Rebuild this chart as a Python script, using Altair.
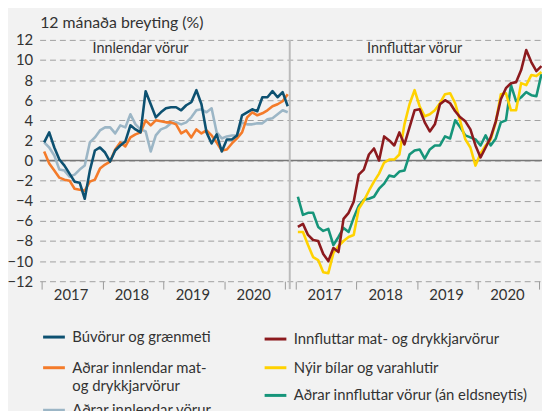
import altair as alt
import pandas as pd

# ---- data (12-month change, %), Jan 2017 .. Jan 2021 ----
months = [f"{y}-{m:02d}" for y in range(2017, 2021) for m in range(1, 13)] + ["2021-01"]

buvorur = [1.8, 2.8, 1.3, 0.1, -0.5, -1.3, -2.1, -2.2, -3.8, -1.0, 1.0, 1.3, 0.8, -0.1, 1.0, 1.5, 1.9, 3.5, 3.1, 2.8, 6.9, 5.6, 4.3, 4.8, 5.2,
           5.3, 5.3, 5.0, 5.5, 5.8, 7.0, 5.6, 2.8, 1.7, 2.6, 0.9, 2.1, 2.1, 2.5, 4.5, 4.8, 5.1, 4.9, 6.3, 6.3, 6.9, 6.3, 6.8, 5.4]
adrar_mat = [0.9, -0.3, -1.0, -1.7, -1.9, -2.0, -2.8, -2.9, -3.0, -2.1, -1.9, -0.8, -0.4, -0.1, 1.1, 1.8, 1.4, 2.3, 2.6, 2.8, 4.0, 3.5, 4.0, 3.9, 3.8,
             3.8, 3.6, 2.7, 3.0, 2.3, 3.1, 2.7, 3.0, 2.5, 1.8, 1.0, 1.1, 1.7, 2.2, 2.8, 4.3, 4.8, 4.5, 4.7, 5.0, 5.4, 5.6, 5.9, 6.6]
adrar_innl = [1.8, 1.3, 0.5, -0.9, -1.0, -1.6, -1.4, -0.9, -0.5, 1.8, 2.3, 3.0, 3.3, 3.3, 2.7, 3.5, 3.3, 4.6, 3.6, 3.1, 2.9, 0.9, 2.5, 3.1, 3.3,
              3.7, 3.8, 3.6, 3.8, 4.3, 5.0, 5.1, 4.8, 5.2, 2.8, 2.2, 2.4, 2.5, 2.5, 3.8, 3.6, 3.6, 3.7, 3.7, 4.1, 4.2, 4.6, 5.0, 4.8]
innfl_mat = [-6.6, -6.3, -7.4, -7.9, -8.0, -9.3, -10.0, -8.7, -9.1, -5.8, -5.2, -4.1, -1.4, -0.9, 0.6, 1.2, 0.0, 2.4, 2.0, 1.5, 2.8, 1.6, 3.3, 5.0, 5.1,
             3.8, 2.9, 3.6, 5.6, 6.0, 5.7, 4.9, 4.3, 3.9, 3.1, 1.5, 0.3, 1.3, 2.3, 3.9, 6.1, 7.2, 7.7, 7.8, 9.0, 11.0, 9.8, 8.9, 9.4]
bilar = [-7.1, -7.1, -8.4, -9.6, -9.9, -11.1, -11.2, -9.2, -8.5, -8.0, -7.6, -7.4, -4.8, -4.0, -3.0, -2.1, -1.3, -0.2, 0.1, 0.1, 0.6, 3.6, 5.6, 7.0, 5.4,
         4.4, 4.6, 5.0, 5.7, 6.6, 6.7, 5.7, 3.9, 2.1, 1.3, -0.5, 0.7, 1.5, 2.1, 3.8, 6.6, 6.7, 5.0, 5.0, 7.7, 7.5, 8.5, 8.4, 8.8]
adrar_innfl = [-3.6, -5.4, -5.2, -5.2, -6.6, -7.0, -6.8, -8.4, -7.6, -6.7, -7.1, -5.7, -4.5, -3.9, -3.8, -3.6, -2.8, -2.3, -1.5, -1.6, -1.1, -1.0, 0.6, 1.0, 1.1,
               0.2, 1.1, 1.5, 1.5, 2.4, 2.2, 4.0, 3.3, 2.5, 2.3, 2.1, 1.5, 2.5, 1.5, 2.2, 3.8, 4.0, 7.5, 5.9, 6.3, 6.8, 6.5, 6.4, 8.6]

left_names = ["Búvörur og grænmeti", "Aðrar innlendar mat- og drykkjarvörur", "Aðrar innlendar vörur"]
left_colors = ["#0d5171", "#f47b2a", "#9cb6c6"]
right_names = ["Innfluttar mat- og drykkjarvörur", "Nýir bílar og varahlutir", "Aðrar innfluttar vörur (án eldsneytis)"]
right_colors = ["#8c1a1e", "#ffd200", "#16957a"]

panel_titles = ["Innlendar vörur", "Innfluttar vörur"]
years = ["2017", "2018", "2019", "2020"]
y_ticks = list(range(-12, 13, 2))

RIGHT_OFFSET = 50  # right panel starts after a 2-month gap on the shared axis


def frame(vals, name, offset):
    return pd.DataFrame({"pos": [i + offset for i in range(len(vals))],
                         "value": vals, "series": name, "month": months[:len(vals)]})


tick_vals = [12 * i - 0.5 for i in range(5)] + [RIGHT_OFFSET + 12 * i - 0.5 for i in range(5)]
year_df = pd.DataFrame({
    "pos": [12 * i + 5.3 for i in range(4)] + [RIGHT_OFFSET + 12 * i + 5.3 for i in range(4)],
    "label": years + years,
})
title_df = pd.DataFrame({"pos": [19, RIGHT_OFFSET + 23], "label": panel_titles})
zero_df = pd.DataFrame({"value": [0]})
divider_df = pd.DataFrame({"pos": [48.4]})

W, H = 508, 244
FONT = "Lato"
TXT = "#333333"

xscale = alt.Scale(domain=[-0.89, 98.11], nice=False, zero=False)
yscale = alt.Scale(domain=[-12, 12], nice=False)
xaxis = alt.Axis(values=tick_vals, labels=False, grid=False, domain=False, ticks=True,
                 tickSize=8, tickColor="#9a9a9a", tickWidth=1, title=None)
yaxis = alt.Axis(values=y_ticks, grid=True, gridDash=[6, 4], gridColor="#a0a0a0", gridWidth=1,
                 domain=False, ticks=False, labelPadding=7, labelFontSize=15, labelColor=TXT,
                 labelFont=FONT, title="12 mánaða breyting (%)", titleAngle=0, titleAlign="left",
                 titleBaseline="middle", titleX=0, titleY=-18, titleFontWeight="normal",
                 titleFontSize=16, titleFont=FONT, titleColor=TXT)

X = alt.X("pos:Q", scale=xscale, axis=xaxis)
Y = alt.Y("value:Q", scale=yscale, axis=yaxis)

zero = alt.Chart(zero_df).mark_rule(color="#777777", strokeWidth=1.5).encode(y=Y)

divider = alt.Chart(divider_df).mark_rule(color="#bbbbbb", strokeWidth=2).encode(
    x=X, y=alt.value(0), y2=alt.value(H + 8))

leg_common = dict(orient="none", title=None, symbolType="stroke", symbolSize=484,
                  symbolStrokeWidth=3, labelFont=FONT, labelFontSize=15, labelColor=TXT,
                  labelOffset=6, labelLimit=400, padding=0)


def series_layer(vals, name, color, offset, lx, ly, label_expr=None):
    extra = {"labelExpr": label_expr} if label_expr else {}
    return alt.Chart(frame(vals, name, offset)).mark_line(strokeWidth=2.6, strokeJoin="round").encode(
        x=X, y=Y,
        color=alt.Color("series:N", scale=alt.Scale(domain=[name], range=[color]),
                        legend=alt.Legend(legendX=lx, legendY=ly, **leg_common, **extra)),
    )


# one legend per series so the two legend columns keep their own row spacing
L1 = series_layer(adrar_innl, left_names[2], left_colors[2], 0, 2, 362)
L2 = series_layer(adrar_mat, left_names[1], left_colors[1], 0, 2, 319,
                  "['Aðrar innlendar mat-', 'og drykkjarvörur']")
L3 = series_layer(buvorur, left_names[0], left_colors[0], 0, 2, 288)
R1 = series_layer(adrar_innfl, right_names[2], right_colors[2], RIGHT_OFFSET, 226, 347)
R2 = series_layer(bilar, right_names[1], right_colors[1], RIGHT_OFFSET, 226, 319)
R3 = series_layer(innfl_mat, right_names[0], right_colors[0], RIGHT_OFFSET, 226, 290)

year_text = alt.Chart(year_df).mark_text(font=FONT, fontSize=15, color=TXT, baseline="middle").encode(
    x=X, y=alt.value(H + 14), text="label:N")

title_text = alt.Chart(title_df).mark_text(font=FONT, fontSize=14.5, color=TXT, baseline="middle").encode(
    x=X, y=alt.value(9), text="label:N")

chart = alt.layer(zero, divider, L1, L2, L3, R1, R2, R3, year_text, title_text).resolve_scale(
    color="independent"
).properties(
    width=W, height=H,
    autosize=alt.AutoSizeParams(type="none"),
    padding={"left": 32, "top": 30, "right": 0, "bottom": 129},
).configure(
    background="#f2f2f2", font=FONT,
    style={"guide-label": {"lineHeight": 19}},
).configure_view(stroke=None)

chart.save("out.html", embed_options={"renderer": "svg", "actions": False})
